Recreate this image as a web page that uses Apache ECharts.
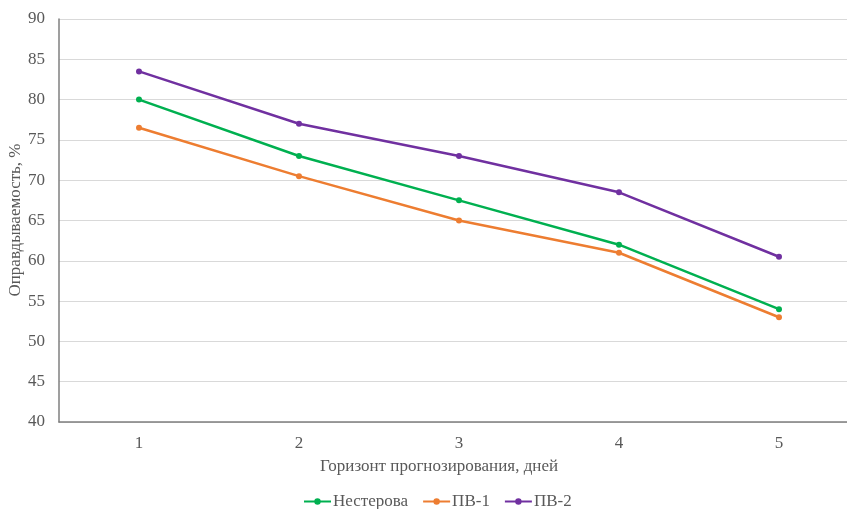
<!DOCTYPE html>
<html><head><meta charset="utf-8">
<script src="https://cdn.jsdelivr.net/npm/echarts@6/dist/echarts.min.js"></script>
<style>html,body{margin:0;padding:0;background:#fff}#c{width:847px;height:509px}</style>
</head><body><div id="c"></div>
<script>
const categories = ['1','2','3','4','5'];
const nesterova = [80, 73, 67.5, 62, 54];
const pv1 = [76.5, 70.5, 65, 61, 53];
const pv2 = [83.5, 77, 73, 68.5, 60.5];
const seriesNames = ['Нестерова','ПВ-1','ПВ-2'];
const colors = ['#00B050','#ED7D31','#7030A0'];
const font = 'Liberation Serif';
const chart = echarts.init(document.getElementById('c'), null, {renderer:'canvas'});
const pairs = vals => vals.map((v, i) => [i + 1, v]);
const mk = (name, data, color) => ({
  name, type:'line', data:pairs(data), color,
  symbol:'circle', symbolSize:6,
  lineStyle:{width:2.5, color}, itemStyle:{color},
  animation:false
});
chart.setOption({
  backgroundColor:'#fff',
  textStyle:{fontFamily:font},
  grid:{left:59, top:19, right:0, height:403},
  xAxis:{type:'value', min:0.5, max:0.5 + 788/160, interval:0.5,
    axisLine:{lineStyle:{color:'#7f7f7f', width:1.5}},
    axisTick:{show:false}, splitLine:{show:false},
    axisLabel:{color:'#595959', fontSize:17, fontFamily:font, margin:13, showMinLabel:true, showMaxLabel:false,
      formatter: v => (Math.abs(v - Math.round(v)) < 1e-6 && categories[Math.round(v) - 1]) ? categories[Math.round(v) - 1] : ''}},
  yAxis:{type:'value', min:40, max:90, interval:5,
    axisLine:{show:true, lineStyle:{color:'#7f7f7f', width:1.5}},
    axisTick:{show:false},
    splitLine:{lineStyle:{color:'#d9d9d9', width:1}},
    axisLabel:{color:'#595959', fontSize:17, fontFamily:font, margin:14}},
  graphic:[
    {type:'text', x:439, y:467, style:{text:'Горизонт прогнозирования, дней', fill:'#595959', font:'17px "Liberation Serif"', textAlign:'center', textVerticalAlign:'middle'}},
    {type:'text', x:16, y:220, rotation:Math.PI/2, style:{text:'Оправдываемость, %', fill:'#595959', font:'17px "Liberation Serif"', textAlign:'center', textVerticalAlign:'middle'}}
  ],
  legend:{data:seriesNames, bottom:-6, left:298, itemWidth:27, itemHeight:8, itemGap:14,
    textStyle:{color:'#595959', fontSize:17, fontFamily:font, padding:[0,0,0,-3]}},
  series:[mk(seriesNames[0], nesterova, colors[0]), mk(seriesNames[1], pv1, colors[1]), mk(seriesNames[2], pv2, colors[2])]
});
</script></body></html>
